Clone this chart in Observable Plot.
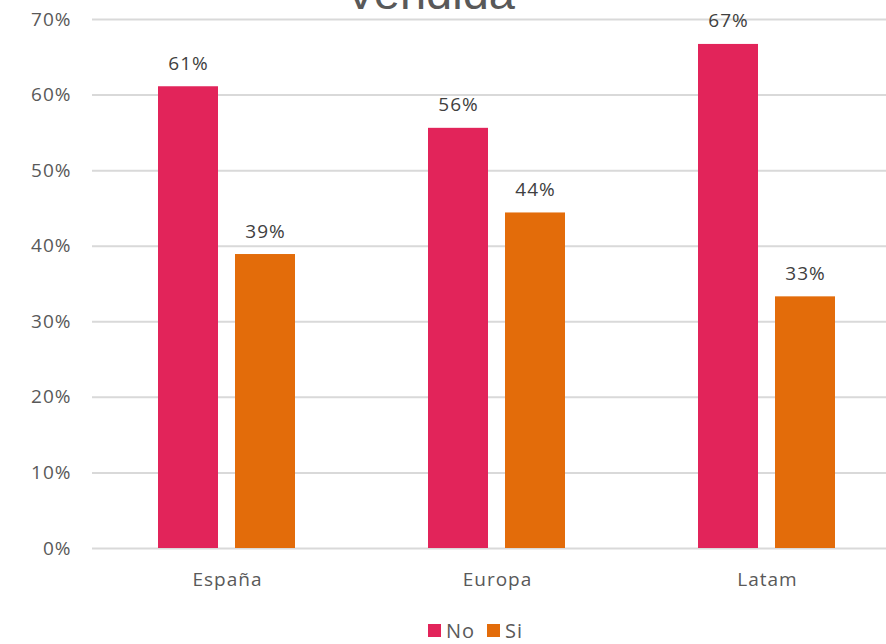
<!DOCTYPE html>
<html>
<head>
<meta charset="utf-8">
<script src="https://cdn.jsdelivr.net/npm/d3@7"></script>
<script src="https://cdn.jsdelivr.net/npm/@observablehq/plot@0.6"></script>
<style>
  html, body { margin: 0; padding: 0; background: white; overflow: hidden; }
  #wrap { position: relative; width: 886px; height: 644px; overflow: hidden; }
  #title { position: absolute; left: 0; width: 860px; text-align: center; top: -35px;
    font-family: "Liberation Sans", Arial, sans-serif; font-size: 47px; color: #595959; }
  #legend { position: absolute; top: 617px; left: 428px; font-family: "Open Sans", sans-serif;
    font-size: 20px; color: #595959; display: flex; align-items: center; letter-spacing: 1px; }
  .sw { display: inline-block; width: 13px; height: 13px; margin-right: 5px; }
</style>
</head>
<body>
<div id="wrap">
  <div id="chart"></div>
  <div id="title">Vendida</div>
  <div id="legend"></div>
</div>
<script>
const regions = ["España", "Europa", "Latam"];
const seriesNames = ["No", "Si"];
const noValues = [61.1, 55.6, 66.7];
const siValues = [38.9, 44.4, 33.3];
const colors = ["#E2245A", "#E36C0A"];
const yTicks = [0, 10, 20, 30, 40, 50, 60, 70];

const data = [];
regions.forEach((r, i) => {
  data.push({region: r, series: "No", value: noValues[i]});
  data.push({region: r, series: "Si", value: siValues[i]});
});

const font = "'Open Sans', sans-serif";
const chart = Plot.plot({
  width: 886,
  height: 644,
  marginTop: 19,
  marginBottom: 96,
  marginLeft: 90,
  marginRight: 0,
  style: {fontFamily: font, fontSize: "19px", color: "#595959", background: "white", letterSpacing: "1px"},
  fx: {domain: regions, range: [90.5, 902.5], padding: 0, label: null, axis: null},
  x: {domain: seriesNames, paddingInner: 0.22, paddingOuter: 0.847, axis: null},
  y: {domain: [0, 70], axis: null},
  color: {domain: seriesNames, range: colors},
  marks: [
    Plot.ruleY(yTicks, {stroke: "#d9d9d9", strokeWidth: 2}),
    Plot.axisY({ticks: yTicks, tickFormat: d => d + "%", tickSize: 0, tickPadding: 21, label: null, fontSize: 19, fill: "#595959"}),
    Plot.axisFx({label: null, tickSize: 0, tickPadding: 24, fontSize: 19, fill: "#595959", anchor: "bottom"}),
    Plot.barY(data, {fx: "region", x: "series", y: "value", fill: "series"}),
    Plot.text(data, {fx: "region", x: "series", y: "value", text: d => Math.round(d.value) + "%", dy: -17, lineAnchor: "bottom", fill: "#404040", fontSize: 19})
  ]
});
document.getElementById("chart").appendChild(chart);

const legend = document.getElementById("legend");
seriesNames.forEach((s, i) => {
  const sw = document.createElement("span");
  sw.className = "sw"; sw.style.background = colors[i];
  const t = document.createElement("span");
  t.textContent = s; t.style.marginRight = i === 0 ? "12px" : "0";
  legend.appendChild(sw); legend.appendChild(t);
});
</script>
</body>
</html>
